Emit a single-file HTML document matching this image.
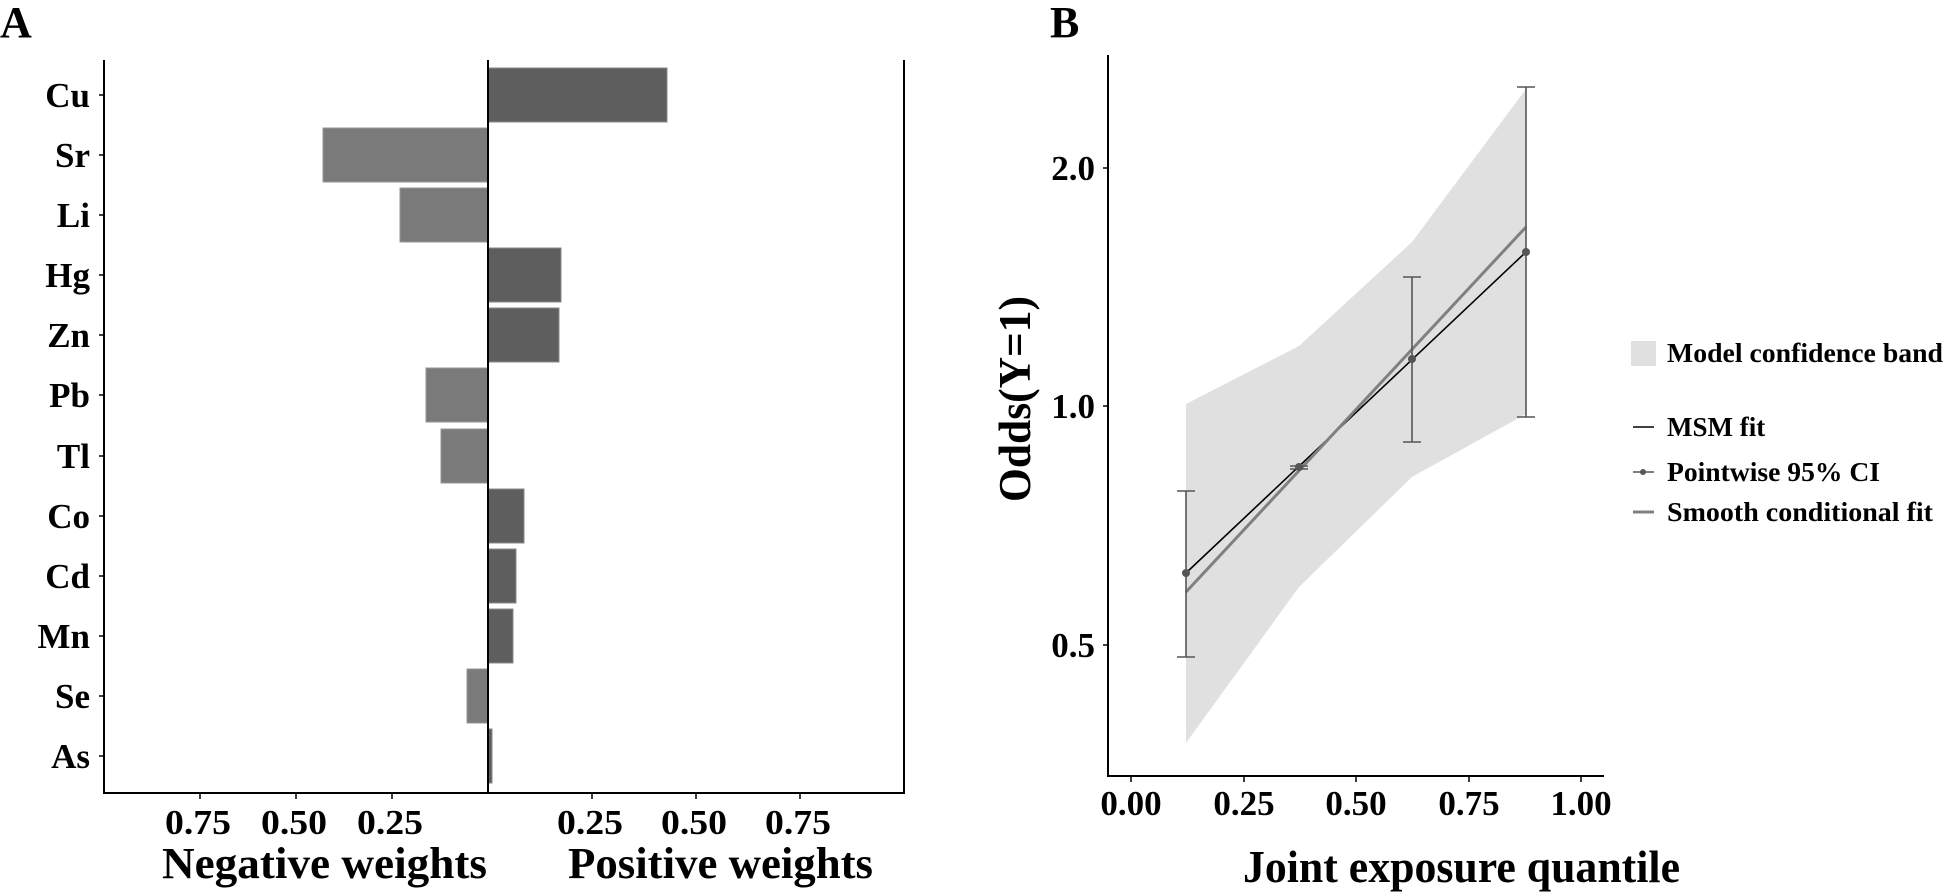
<!DOCTYPE html>
<html><head><meta charset="utf-8"><style>
html,body{margin:0;padding:0;background:#fff;}
svg{display:block;}
text{font-family:"Liberation Serif",serif;font-weight:bold;fill:#000;}
</style></head><body>
<svg width="1948" height="893" viewBox="0 0 1948 893" xmlns="http://www.w3.org/2000/svg">
<!-- Panel A -->
<text x="0" y="37" font-size="44">A</text>
<g fill="#5e5e5e" stroke="#8a8a8a" stroke-width="1">
<rect x="488" y="68" width="179" height="54"/>
<rect x="488" y="248" width="73" height="54"/>
<rect x="488" y="308" width="71" height="54"/>
<rect x="488" y="489" width="36" height="54"/>
<rect x="488" y="549" width="28" height="54"/>
<rect x="488" y="609" width="25" height="54"/>
<rect x="488" y="729" width="4" height="54"/>
</g>
<g fill="#7a7a7a" stroke="#959595" stroke-width="1">
<rect x="323" y="128" width="165" height="54"/>
<rect x="400" y="188" width="88" height="54"/>
<rect x="426" y="368" width="62" height="54"/>
<rect x="441" y="429" width="47" height="54"/>
<rect x="467" y="669" width="21" height="54"/>
</g>
<g stroke="#000" stroke-width="2" fill="none">
<line x1="104" y1="60" x2="104" y2="794"/>
<line x1="103" y1="793" x2="904" y2="793"/>
<line x1="904" y1="60" x2="904" y2="794"/>
<line x1="488" y1="60" x2="488" y2="793"/>
</g>
<g stroke="#000" stroke-width="1.5">
<line x1="99" y1="95" x2="104" y2="95"/><line x1="99" y1="155" x2="104" y2="155"/>
<line x1="99" y1="215" x2="104" y2="215"/><line x1="99" y1="275" x2="104" y2="275"/>
<line x1="99" y1="335" x2="104" y2="335"/><line x1="99" y1="395" x2="104" y2="395"/>
<line x1="99" y1="456" x2="104" y2="456"/><line x1="99" y1="516" x2="104" y2="516"/>
<line x1="99" y1="576" x2="104" y2="576"/><line x1="99" y1="636" x2="104" y2="636"/>
<line x1="99" y1="696" x2="104" y2="696"/><line x1="99" y1="756" x2="104" y2="756"/>
<line x1="200" y1="793" x2="200" y2="799"/><line x1="296" y1="793" x2="296" y2="799"/>
<line x1="392" y1="793" x2="392" y2="799"/><line x1="592" y1="793" x2="592" y2="799"/>
<line x1="696" y1="793" x2="696" y2="799"/><line x1="800" y1="793" x2="800" y2="799"/>
</g>
<g font-size="35" text-anchor="end">
<text x="90" y="107">Cu</text><text x="90" y="167">Sr</text><text x="90" y="227">Li</text>
<text x="90" y="287">Hg</text><text x="90" y="347">Zn</text><text x="90" y="407">Pb</text>
<text x="90" y="468">Tl</text><text x="90" y="528">Co</text><text x="90" y="588">Cd</text>
<text x="90" y="648">Mn</text><text x="90" y="708">Se</text><text x="90" y="768">As</text>
</g>
<g font-size="35">
<text x="165" y="834" textLength="66" lengthAdjust="spacingAndGlyphs">0.75</text>
<text x="261" y="834" textLength="66" lengthAdjust="spacingAndGlyphs">0.50</text>
<text x="357" y="834" textLength="66" lengthAdjust="spacingAndGlyphs">0.25</text>
<text x="557" y="834" textLength="66" lengthAdjust="spacingAndGlyphs">0.25</text>
<text x="661" y="834" textLength="66" lengthAdjust="spacingAndGlyphs">0.50</text>
<text x="765" y="834" textLength="66" lengthAdjust="spacingAndGlyphs">0.75</text>
</g>
<g font-size="44">
<text x="162" y="878" textLength="325" lengthAdjust="spacingAndGlyphs">Negative weights</text>
<text x="568" y="878" textLength="305" lengthAdjust="spacingAndGlyphs">Positive weights</text>
</g>

<!-- Panel B -->
<text x="1050" y="37" font-size="44">B</text>
<polygon points="1186,404 1299,346 1412,242 1526,89 1526,414 1412,477 1299,587 1186,743" fill="#e0e0e0"/>
<line x1="1186" y1="573" x2="1526" y2="252" stroke="#000" stroke-width="1.6"/>
<line x1="1186" y1="592" x2="1526" y2="227" stroke="#808080" stroke-width="3"/>
<g stroke="#555" stroke-width="1.6" fill="none">
<line x1="1186" y1="491" x2="1186" y2="657"/><line x1="1177" y1="491" x2="1195" y2="491"/><line x1="1177" y1="657" x2="1195" y2="657"/>
<line x1="1290" y1="466" x2="1308" y2="466"/><line x1="1290" y1="469" x2="1308" y2="469"/>
<line x1="1412" y1="277" x2="1412" y2="442"/><line x1="1403" y1="277" x2="1421" y2="277"/><line x1="1403" y1="442" x2="1421" y2="442"/>
<line x1="1526" y1="87" x2="1526" y2="417"/><line x1="1517" y1="87" x2="1535" y2="87"/><line x1="1517" y1="417" x2="1535" y2="417"/>
</g>
<g fill="#555">
<circle cx="1186" cy="573" r="4"/><circle cx="1299" cy="467" r="4"/>
<circle cx="1412" cy="359" r="4"/><circle cx="1526" cy="252" r="4"/>
</g>
<g stroke="#000" stroke-width="2" fill="none">
<line x1="1108" y1="55" x2="1108" y2="777"/>
<line x1="1107" y1="776" x2="1604" y2="776"/>
</g>
<g stroke="#000" stroke-width="1.5">
<line x1="1103" y1="168" x2="1108" y2="168"/><line x1="1103" y1="406" x2="1108" y2="406"/><line x1="1103" y1="645" x2="1108" y2="645"/>
<line x1="1131" y1="776" x2="1131" y2="782"/><line x1="1244" y1="776" x2="1244" y2="782"/>
<line x1="1356" y1="776" x2="1356" y2="782"/><line x1="1469" y1="776" x2="1469" y2="782"/>
<line x1="1581" y1="776" x2="1581" y2="782"/>
</g>
<g font-size="35" text-anchor="end">
<text x="1095" y="180">2.0</text><text x="1095" y="418">1.0</text><text x="1095" y="657">0.5</text>
</g>
<g font-size="35" text-anchor="middle">
<text x="1131" y="815">0.00</text><text x="1244" y="815">0.25</text><text x="1356" y="815">0.50</text>
<text x="1469" y="815">0.75</text><text x="1581" y="815">1.00</text>
</g>
<text x="1243" y="882" font-size="45" textLength="437" lengthAdjust="spacingAndGlyphs">Joint exposure quantile</text>
<text transform="translate(1030,502) rotate(-90)" font-size="45" textLength="206" lengthAdjust="spacingAndGlyphs">Odds(Y=1)</text>

<!-- Legend -->
<rect x="1631" y="341" width="25" height="25" fill="#e0e0e0"/>
<line x1="1633" y1="427" x2="1654" y2="427" stroke="#000" stroke-width="1.6"/>
<line x1="1633" y1="472" x2="1654" y2="472" stroke="#555" stroke-width="1.6"/>
<circle cx="1643" cy="472" r="3" fill="#555"/>
<line x1="1633" y1="512" x2="1654" y2="512" stroke="#808080" stroke-width="3"/>
<g font-size="27">
<text x="1667" y="362" textLength="276" lengthAdjust="spacingAndGlyphs">Model confidence band</text>
<text x="1667" y="436">MSM fit</text>
<text x="1667" y="481" textLength="213" lengthAdjust="spacingAndGlyphs">Pointwise 95% CI</text>
<text x="1667" y="521" textLength="266" lengthAdjust="spacingAndGlyphs">Smooth conditional fit</text>
</g>
</svg>
</body></html>
